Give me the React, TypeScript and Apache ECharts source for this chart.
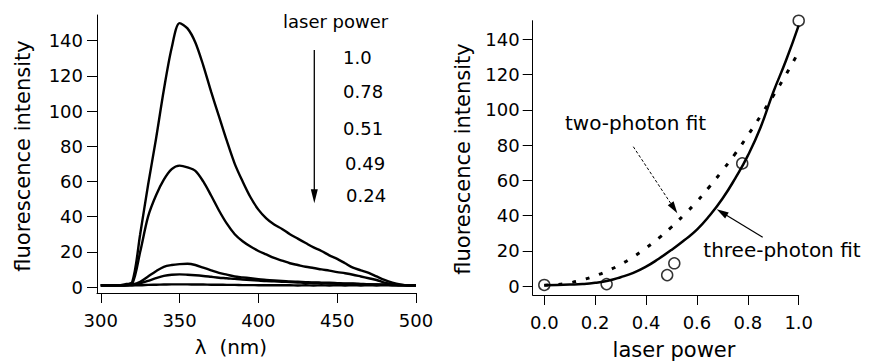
import React, { useEffect, useRef } from "react";
import * as echarts from "echarts";

const FONT = '"DejaVu Sans", "Liberation Sans", sans-serif';

// Left panel: emission spectra
const wavelengths = [300, 305, 310, 315, 320, 325, 330, 335, 340, 345, 350, 355, 360, 365, 370, 375, 380, 385, 390, 395, 400, 405, 410, 415, 420, 425, 430, 435, 440, 445, 450, 455, 460, 465, 470, 475, 480, 485, 490, 495, 500];
const spectrum100 = [1, 1, 1, 1.5, 3, 30, 58, 84, 112, 136, 150, 147, 139, 126, 111, 97, 83, 70, 60, 51, 44, 39, 35.5, 33, 30, 27.5, 25, 22.5, 20.5, 18, 16, 13.5, 11, 9.5, 8, 6, 4, 2.5, 1.5, 1, 1];
const spectrum078 = [1, 1, 1, 1, 2, 20, 40, 52, 61, 67, 69, 68, 66, 60, 52, 43.5, 36, 30, 26, 23, 20.5, 18.5, 16.5, 15, 13.5, 12.5, 11.5, 10.8, 10, 9.3, 8.5, 7.8, 7, 6, 5, 4, 2.5, 1.8, 1.2, 1, 1];
const spectrum051 = [1, 1, 1, 1, 1.5, 3, 6, 9, 11.5, 12.5, 13, 13.2, 12.5, 11, 9.5, 8, 7, 6, 5.5, 5, 4.5, 4, 3.7, 3.5, 3.2, 3, 2.8, 2.6, 2.5, 2.4, 2.2, 2, 2, 1.8, 1.6, 1.5, 1.4, 1.2, 1, 1, 1];
const spectrum049 = [1, 1, 1, 1, 1, 2, 3.5, 5, 6.3, 7, 7.2, 7, 6.7, 6.3, 5.8, 5.3, 5, 4.6, 4.3, 4, 3.7, 3.4, 3.2, 3, 2.8, 2.6, 2.4, 2.3, 2.2, 2, 1.9, 1.8, 1.7, 1.6, 1.5, 1.4, 1.3, 1.2, 1, 1, 1];
const spectrum024 = [0.8, 0.9, 0.8, 0.9, 1, 1, 1.2, 1.3, 1.4, 1.5, 1.5, 1.5, 1.4, 1.4, 1.3, 1.3, 1.2, 1.2, 1.1, 1.1, 1, 1, 1, 1, 1, 0.9, 1, 0.9, 1, 0.9, 1, 0.9, 1, 0.9, 1, 0.9, 1, 0.9, 1, 0.9, 1];
const powerLabels = ["1.0", "0.78", "0.51", "0.49", "0.24"];

// Right panel: power dependence
const laserPower = [0.0, 0.245, 0.483, 0.511, 0.778, 1.0];
const measuredIntensity = [0.6, 1.1, 6.2, 12.9, 69.6, 150.6];
const fitPower = [0, 0.05, 0.1, 0.15, 0.2, 0.25, 0.3, 0.35, 0.4, 0.45, 0.5, 0.55, 0.6, 0.65, 0.7, 0.75, 0.8, 0.85, 0.9, 0.95, 1.0];
const threePhotonFit = [0.5, 0.6, 0.8, 1.1, 1.8, 3, 5, 7.5, 11, 15.5, 20.5, 26, 32, 40, 49.5, 61, 74, 90, 110, 128, 148];
const twoPhotonFit = [0.5, 0.8, 1.8, 3.5, 5.8, 8.7, 12.3, 16.6, 21.6, 27.2, 33.5, 40.5, 48, 56.5, 65.5, 75, 85.5, 96.5, 108, 120, 133];

// Tick values
const yTicks = [0, 20, 40, 60, 80, 100, 120, 140];
const xTicksLeft = [300, 350, 400, 450, 500];
const xTicksRight = [0, 0.2, 0.4, 0.6, 0.8, 1.0];

function arrow(x1: number, y1: number, x2: number, y2: number, headLen: number, headHalf: number, dashed: boolean, width: number) {
  const dx = x2 - x1;
  const dy = y2 - y1;
  const len = Math.sqrt(dx * dx + dy * dy);
  const ux = dx / len;
  const uy = dy / len;
  const bx = x2 - ux * headLen;
  const by = y2 - uy * headLen;
  const px = -uy * headHalf;
  const py = ux * headHalf;
  return [
    {
      type: "line",
      shape: { x1, y1, x2: bx + ux * 2, y2: by + uy * 2 },
      style: { stroke: "#000", lineWidth: width, lineDash: dashed ? [3, 2] : null },
      silent: true,
    },
    {
      type: "polygon",
      shape: { points: [[x2, y2], [bx + px, by + py], [bx - px, by - py]] },
      style: { fill: "#000", stroke: null },
      silent: true,
    },
  ];
}

function txt(text: string, x: number, y: number, size: number, align = "left", rotation = 0) {
  return {
    type: "text",
    x,
    y,
    rotation,
    silent: true,
    style: {
      text,
      fill: "#000",
      fontSize: size,
      fontFamily: FONT,
      align,
      verticalAlign: "middle",
    },
  };
}

const axisCommon = {
  axisLine: { show: true, onZero: false, lineStyle: { color: "#000", width: 1 } },
  splitLine: { show: false },
};

export default function App() {
  const ref = useRef<HTMLDivElement>(null);

  useEffect(() => {
    if (!ref.current) return;
    const chart = echarts.init(ref.current, null, { renderer: "svg" });

    const spectra = [spectrum100, spectrum078, spectrum051, spectrum049, spectrum024];
    const spectrumSeries = spectra.map((vals, i) => ({
      name: powerLabels[i],
      type: "line",
      xAxisIndex: 0,
      yAxisIndex: 0,
      data: wavelengths.map((w, j) => [w, vals[j]]),
      showSymbol: false,
      smooth: 0.3,
      lineStyle: { color: "#000", width: 2.4 },
      z: 3,
    }));

    const labelStyle = { color: "#000", fontSize: 18, fontFamily: FONT };

    const option = {
      animation: false,
      backgroundColor: "#fff",
      grid: [
        { left: 97, top: 15, width: 319, height: 278 },
        { left: 532.7, top: 20.7, width: 266, height: 274.3 },
      ],
      xAxis: [
        {
          type: "value",
          gridIndex: 0,
          min: 297.6,
          max: 500,
          ...axisCommon,
          axisTick: { show: true, length: 10, customValues: xTicksLeft, lineStyle: { color: "#000" } },
          axisLabel: { ...labelStyle, margin: 18, customValues: xTicksLeft },
        },
        {
          type: "value",
          gridIndex: 1,
          min: -0.0456,
          max: 1.0,
          ...axisCommon,
          axisTick: { show: true, length: 10, customValues: xTicksRight, lineStyle: { color: "#000" } },
          axisLabel: { ...labelStyle, margin: 18, customValues: xTicksRight, formatter: (v: number) => v.toFixed(1) },
        },
      ],
      yAxis: [
        {
          type: "value",
          gridIndex: 0,
          min: -3.4,
          max: 154.6,
          ...axisCommon,
          axisTick: { show: true, length: 10, customValues: yTicks, lineStyle: { color: "#000" } },
          axisLabel: { ...labelStyle, margin: 14, customValues: yTicks },
        },
        {
          type: "value",
          gridIndex: 1,
          min: -5.1,
          max: 150.6,
          ...axisCommon,
          axisTick: { show: true, length: 10, customValues: yTicks, lineStyle: { color: "#000" } },
          axisLabel: { ...labelStyle, margin: 13, customValues: yTicks },
        },
      ],
      series: [
        ...spectrumSeries,
        {
          name: "two-photon fit",
          type: "line",
          xAxisIndex: 1,
          yAxisIndex: 1,
          data: fitPower.map((p, i) => [p, twoPhotonFit[i]]),
          showSymbol: false,
          smooth: true,
          lineStyle: { color: "#000", width: 3, type: [4, 10] },
          z: 3,
        },
        {
          name: "three-photon fit",
          type: "line",
          xAxisIndex: 1,
          yAxisIndex: 1,
          data: fitPower.map((p, i) => [p, threePhotonFit[i]]),
          showSymbol: false,
          smooth: true,
          lineStyle: { color: "#000", width: 2.5 },
          z: 3,
        },
        {
          name: "measured",
          type: "scatter",
          xAxisIndex: 1,
          yAxisIndex: 1,
          data: laserPower.map((p, i) => [p, measuredIntensity[i]]),
          symbol: "circle",
          symbolSize: 11,
          clip: false,
          itemStyle: { color: "rgba(255,255,255,0)", borderColor: "#000", borderWidth: 1.5 },
          z: 4,
        },
      ],
      graphic: [
        txt("fluorescence intensity", 23, 156, 21, "center", Math.PI / 2),
        txt("fluorescence intensity", 463, 159, 21, "center", Math.PI / 2),
        txt("λ  (nm)", 231, 347, 20, "center"),
        txt("laser power", 674, 350, 21, "center"),
        txt("laser power", 283, 21.7, 18),
        txt(powerLabels[0], 343, 57.3, 18),
        txt(powerLabels[1], 343, 91.7, 18),
        txt(powerLabels[2], 343, 128.3, 18),
        txt(powerLabels[3], 345, 163.3, 18),
        txt(powerLabels[4], 346, 195, 18),
        ...arrow(314.3, 50, 314.3, 203.3, 14, 3.5, false, 1.3),
        txt("two-photon fit", 565, 122.7, 20),
        ...arrow(633.3, 146.7, 677.3, 213.3, 12, 3.5, true, 1),
        txt("three-photon fit", 703.3, 250, 20),
        ...arrow(762.7, 237.3, 716.7, 209.3, 12, 3.5, false, 1.2),
      ],
    };

    chart.setOption(option as any);
    return () => chart.dispose();
  }, []);

  return (
    <div
      ref={ref}
      style={{ position: "absolute", left: 0, top: 0, width: 869, height: 362, background: "#fff" }}
    />
  );
}
